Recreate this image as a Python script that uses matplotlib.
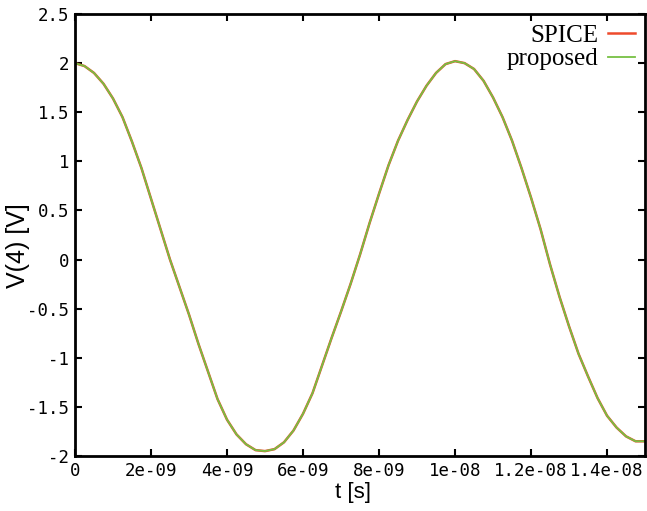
import numpy as np
import matplotlib
matplotlib.use("Agg")
from matplotlib import pyplot as plt

# values (time in ns, voltage in volts)
t_ns = [0.0, 0.25, 0.5, 0.75, 1.0, 1.25, 1.5, 1.75, 2.0, 2.25, 2.5, 2.75,
        3.0, 3.25, 3.5, 3.75, 4.0, 4.25, 4.5, 4.75, 5.0, 5.25, 5.5, 5.75,
        6.0, 6.25, 6.5, 6.75, 7.0, 7.25, 7.5, 7.75, 8.0, 8.25, 8.5, 8.75,
        9.0, 9.25, 9.5, 9.75, 10.0, 10.25, 10.5, 10.75, 11.0, 11.25, 11.5,
        11.75, 12.0, 12.25, 12.5, 12.75, 13.0, 13.25, 13.5, 13.75, 14.0,
        14.25, 14.5, 14.75, 15.0]
v_spice = [2.00, 1.97, 1.90, 1.79, 1.64, 1.45, 1.20, 0.93, 0.62, 0.31, 0.00, -0.28,
           -0.56, -0.86, -1.14, -1.42, -1.63, -1.78, -1.88, -1.94, -1.95, -1.93, -1.86, -1.74,
           -1.57, -1.36, -1.08, -0.80, -0.53, -0.25, 0.05, 0.37, 0.67, 0.96, 1.21, 1.42,
           1.61, 1.77, 1.90, 1.99, 2.02, 2.00, 1.94, 1.82, 1.65, 1.45, 1.21,
           0.93, 0.63, 0.31, -0.05, -0.38, -0.68, -0.96, -1.19, -1.41, -1.59,
           -1.71, -1.80, -1.85, -1.85]
v_proposed = [2.00, 1.97, 1.90, 1.79, 1.64, 1.45, 1.20, 0.93, 0.62, 0.31, 0.00, -0.28,
              -0.56, -0.86, -1.14, -1.42, -1.63, -1.78, -1.88, -1.94, -1.95, -1.93, -1.86, -1.74,
              -1.57, -1.36, -1.08, -0.80, -0.53, -0.25, 0.05, 0.37, 0.67, 0.96, 1.21, 1.42,
              1.61, 1.77, 1.90, 1.99, 2.02, 2.00, 1.94, 1.82, 1.65, 1.45, 1.21,
              0.93, 0.63, 0.31, -0.05, -0.38, -0.68, -0.96, -1.19, -1.41, -1.59,
              -1.71, -1.80, -1.85, -1.85]

x_ticks = [0, 2e-9, 4e-9, 6e-9, 8e-9, 1e-8, 1.2e-8, 1.4e-8]
x_tick_labels = ['0', '2e-09', '4e-09', '6e-09', '8e-09', '1e-08', '1.2e-08', '1.4e-08']
y_ticks = [-2, -1.5, -1, -0.5, 0, 0.5, 1, 1.5, 2, 2.5]
y_tick_labels = ['-2', '-1.5', '-1', '-0.5', '0', '0.5', '1', '1.5', '2', '2.5']

t = np.array(t_ns) * 1e-9

fig = plt.figure(figsize=(6.47, 5.11), dpi=100)
ax = fig.add_axes([0.1159, 0.1076, 0.8811, 0.865])

ax.plot(t, v_spice, color='#ee4a2c', lw=1.8, label='SPICE')
ax.plot(t, v_proposed, color='#76c043', lw=1.3, label='proposed')

ax.set_xlim(0, 1.5e-8)
ax.set_ylim(-2, 2.5)
ax.set_xticks(x_ticks)
ax.set_xticklabels(x_tick_labels, family='DejaVu Sans Mono', fontsize=12.5)
ax.set_yticks(y_ticks)
ax.set_yticklabels(y_tick_labels, family='DejaVu Sans Mono', fontsize=12.5)
ax.tick_params(direction='in', length=5, width=1.5, top=True, right=True, pad=4)

for s in ax.spines.values():
    s.set_linewidth(2)

ax.set_xlabel('t [s]', family='Liberation Sans', fontsize=16)
ax.set_ylabel('V(4) [V]', family='Liberation Sans', fontsize=18)
# place axis labels where they sit in the reference
ax.xaxis.set_label_coords(0.488, -0.058)
ax.yaxis.set_label_coords(-0.079, 0.477)

leg = ax.legend(loc='upper right', frameon=False, markerfirst=False,
                prop={'family': 'Liberation Serif', 'size': 18},
                handlelength=1.1, handletextpad=0.35, labelspacing=0.05,
                borderaxespad=0.1, borderpad=0.3)
for txt in leg.get_texts():
    txt.set_ha('right')

fig.savefig('out.png', dpi=100)
